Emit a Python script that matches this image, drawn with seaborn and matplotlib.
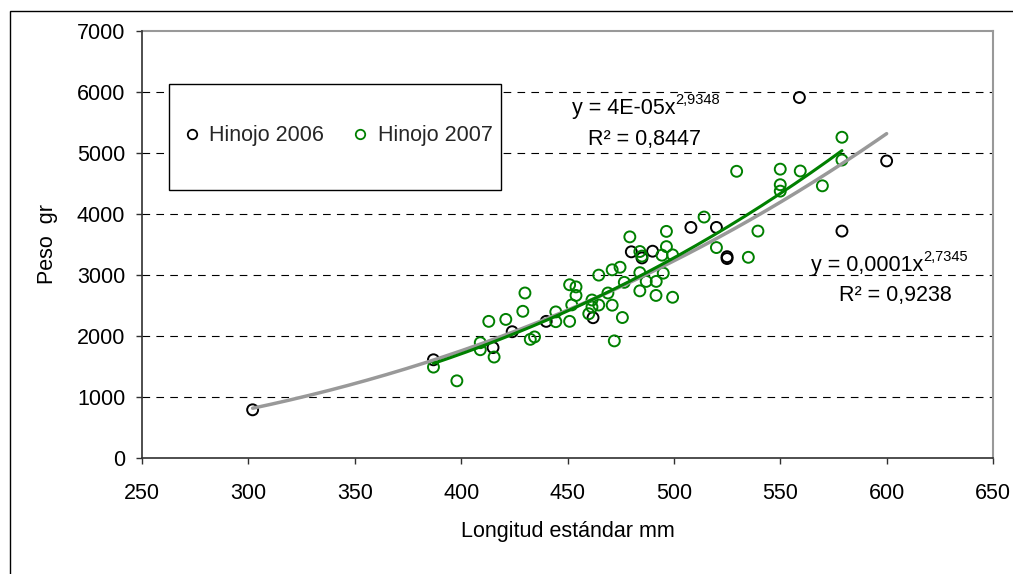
import numpy as np
import pandas as pd
import matplotlib
matplotlib.use("Agg")
import matplotlib.pyplot as plt
import seaborn as sns
from matplotlib.patches import Rectangle
from matplotlib.lines import Line2D

# ---------------- data ----------------
series_names = ["Hinojo 2006", "Hinojo 2007"]

len_2006 = [302, 387, 415, 424, 440, 462, 480, 485, 490, 508, 520, 525, 525, 559, 579, 600]
peso_2006 = [790, 1610, 1810, 2070, 2240, 2300, 3380, 3280, 3390, 3780, 3780, 3300, 3270, 5910, 3720, 4870]

len_2007 = [387, 398, 409, 409, 413, 415.5, 421, 429, 430, 432.5, 434.5, 444.5, 444.5,
            451, 452, 451, 454, 454, 460, 461.5, 461.5, 464.7, 464.7, 469, 471, 471, 472,
            474.7, 475.8, 476.7, 479.3, 484, 485, 484, 484, 487, 491.7, 491.6, 494.4, 495,
            496.5, 496.5, 499.4, 499.4, 514.2, 520, 529.5, 535, 539.5, 550, 550, 550,
            559.4, 569.8, 579, 579]
peso_2007 = [1490, 1265, 1890, 1775, 2240, 1655, 2272, 2405, 2705, 1945, 1985, 2395, 2235,
             2840, 2510, 2240, 2805, 2665, 2365, 2590, 2475, 2508, 2998, 2705, 3085, 2505, 1920,
             3127, 2303, 2880, 3625, 3385, 3310, 3038, 2740, 2895, 2895, 2665, 3325, 3030,
             3715, 3465, 3330, 2635, 3950, 3450, 4700, 3290, 3720, 4735, 4480, 4375,
             4705, 4462, 5258, 4885]

x_ticks = [250, 300, 350, 400, 450, 500, 550, 600, 650]
y_ticks = [0, 1000, 2000, 3000, 4000, 5000, 6000, 7000]
x_label = "Longitud estándar mm"
y_label = "Peso  gr"

eq_2007 = ("y = 4E-05x", "2,9348", "R² = 0,8447")
eq_2006 = ("y = 0,0001x", "2,7345", "R² = 0,9238")

col_2006 = "#000000"
col_2007 = "#008000"
trend_2006 = "#999999"
trend_2007 = "#008000"

# ---------------- style ----------------
sns.set_theme(style="white")
plt.rcParams["font.family"] = ["Liberation Sans", "DejaVu Sans"]
plt.rcParams["lines.scale_dashes"] = False

W, H = 1013, 574
fig = plt.figure(figsize=(W / 100, H / 100), dpi=100)
fig.patch.set_facecolor("white")

# outer chart border (partly outside the picture)
fig.add_artist(Rectangle((10 / W, -0.05), 1.2, 1 - 11 / H + 0.05, transform=fig.transFigure,
                         fill=False, edgecolor="black", linewidth=1.0))

ax = fig.add_axes([142 / W, 1 - 458 / H, 851 / W, 427 / H])
ax.set_facecolor("white")

df = pd.DataFrame({
    "len": len_2006 + len_2007,
    "peso": peso_2006 + peso_2007,
    "serie": [series_names[0]] * len(len_2006) + [series_names[1]] * len(len_2007),
})

sns.scatterplot(data=df, x="len", y="peso", hue="serie",
                palette={series_names[0]: col_2006, series_names[1]: col_2007},
                s=62, linewidth=1.4, legend=False, ax=ax, zorder=3)
for coll in ax.collections:
    fc = coll.get_facecolors()
    coll.set_edgecolors(fc)
    coll.set_facecolors("none")

# power trendlines (least squares on log-log, as Excel does)
def power_fit(xs, ys):
    b, la = np.polyfit(np.log(xs), np.log(ys), 1)
    xx = np.linspace(min(xs), max(xs), 200)
    return xx, np.exp(la) * xx ** b

xx6, yy6 = power_fit(np.array(len_2006), np.array(peso_2006))
xx7, yy7 = power_fit(np.array(len_2007), np.array(peso_2007))
sns.lineplot(x=xx6, y=yy6, color=trend_2006, linewidth=2.5, ax=ax, zorder=4)
sns.lineplot(x=xx7, y=yy7, color=trend_2007, linewidth=2.2, ax=ax, zorder=5)

ax.set_xlim(250, 650)
ax.set_ylim(0, 7000)
ax.set_xticks(x_ticks)
ax.set_yticks(y_ticks)
ax.set_xticklabels([str(v) for v in x_ticks])
ax.set_yticklabels([str(v) for v in y_ticks])

for v in y_ticks[1:-1]:
    ax.axhline(v, color="black", linewidth=0.8, linestyle=(0, (5.5, 4.5)), zorder=1)

for s in ["top", "right"]:
    ax.spines[s].set_color("#999999")
    ax.spines[s].set_linewidth(1.5)
for s in ["left", "bottom"]:
    ax.spines[s].set_color("#303030")
    ax.spines[s].set_linewidth(1.2)
    ax.spines[s].set_zorder(6)

ax.tick_params(axis="both", which="both", direction="out", length=4, width=1,
               color="#303030", labelsize=15.5, labelcolor="black")
ax.tick_params(axis="x", pad=14, bottom=True)
ax.tick_params(axis="y", pad=8, left=True)

ax.set_xlabel(x_label, fontsize=15.5, color="black", labelpad=12)
ax.set_ylabel(y_label, fontsize=15.5, color="black", labelpad=14)

# equation labels
def px2data(px, py):
    return 250 + (px - 142) / 851 * 400, (458 - py) / 427 * 7000

x1, y1 = px2data(675, 109)
ax.text(x1, y1, eq_2007[0], ha="right", va="center", fontsize=15.5, color="black", zorder=7)
ax.text(x1, y1 + 140, eq_2007[1], ha="left", va="center", fontsize=10.5, color="black", zorder=7)
x2, y2 = px2data(645, 140)
ax.text(x2, y2, eq_2007[2], ha="center", va="center", fontsize=15.5, color="black", zorder=7)

x3, y3 = px2data(923, 266)
ax.text(x3, y3, eq_2006[0], ha="right", va="center", fontsize=15.5, color="black", zorder=7)
ax.text(x3, y3 + 140, eq_2006[1], ha="left", va="center", fontsize=10.5, color="black", zorder=7)
x4, y4 = px2data(895, 296)
ax.text(x4, y4, eq_2006[2], ha="center", va="center", fontsize=15.5, color="black", zorder=7)

# legend box
bx0, bx1 = (169 - 142) / 851, (501 - 142) / 851
by0, by1 = (458 - 190) / 427, (458 - 84) / 427
ax.add_patch(Rectangle((bx0, by0), bx1 - bx0, by1 - by0, transform=ax.transAxes,
                       facecolor="white", edgecolor="black", linewidth=1.0, zorder=8))
handles = [Line2D([], [], marker="o", linestyle="none", markersize=6.8, markerfacecolor="none",
                  markeredgecolor=c, markeredgewidth=1.3) for c in (col_2006, col_2007)]
leg = ax.legend(handles, series_names, ncol=2, loc="center",
                bbox_to_anchor=((338 - 142) / 851, (458 - 136) / 427),
                bbox_transform=ax.transAxes, frameon=False, fontsize=15.5,
                handlelength=0.8, handletextpad=0.4, columnspacing=1.27, borderpad=0)
leg.set_zorder(9)

fig.savefig("out.png", dpi=100, facecolor="white")
